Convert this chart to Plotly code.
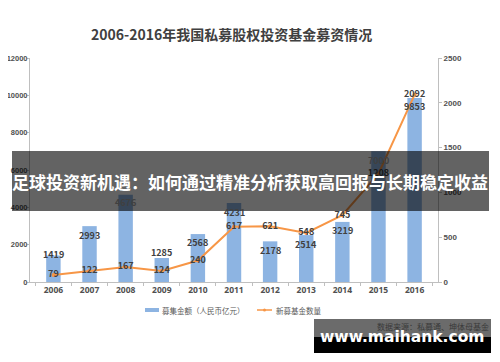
import plotly.graph_objects as go

years = ["2006", "2007", "2008", "2009", "2010", "2011", "2012", "2013", "2014", "2015", "2016"]
amount = [1419, 2993, 4676, 1285, 2568, 4231, 2178, 2514, 3219, 7000, 9853]
count = [79, 122, 167, 124, 240, 617, 621, 548, 745, 1208, 2092]
amount_label_shift = [1, -9, -8, 6, -8, -9, -9, -9, -9, -9, -8]

series_names = ["募集金额（人民币亿元）", "新募基金数量"]
title = "2006-2016年我国私募股权投资基金募资情况"
banner = "足球投资新机遇：如何通过精准分析获取高回报与长期稳定收益"
source = "数据来源：私募通、坤体母基金"
watermark = "www.maihank.com"

# page body has an 8px margin; work in window pixels and convert
OFF = 8
W, H = 500 - OFF, 362 - OFF
AX_L, AX_R, AX_T, AX_B = 30, 438, 58, 282  # plot area in window pixels
L = AX_L - OFF
R = W - (AX_R - OFF)
T = AX_T - OFF
B = H - (AX_B - OFF)
PW, PH = W - L - R, H - T - B


def px(x):
    return (x - AX_L) / PW


def py(y):
    return (AX_B - y) / PH


FONT = "Noto Sans CJK SC"
BLUE = "#8DB4E2"
ORANGE = "#F79646"
TXT = "#404040"

fig = go.Figure()
fig.add_trace(go.Bar(
    x=years, y=amount, name=series_names[0],
    marker=dict(color=BLUE, line=dict(width=0)),
    yaxis="y", showlegend=False,
))
fig.add_trace(go.Scatter(
    x=years, y=count, name=series_names[1],
    mode="lines+markers+text",
    line=dict(color=ORANGE, width=2),
    marker=dict(color=ORANGE, size=4),
    text=[str(v) for v in count], textposition="middle center",
    textfont=dict(family=FONT, size=9, color=TXT, weight="bold"),
    yaxis="y2", showlegend=False,
))

annotations = []
for i, (v, s) in enumerate(zip(amount, amount_label_shift)):
    annotations.append(dict(
        x=i, y=v, xref="x", yref="y", text=str(v), showarrow=False,
        yanchor="middle", yshift=s,
        font=dict(family=FONT, size=9, color=TXT, weight="bold"),
    ))

annotations.append(dict(
    x=px(231), y=py(34), xref="paper", yref="paper", text=title,
    showarrow=False, xanchor="center", yanchor="middle",
    font=dict(family=FONT, size=14, color=TXT, weight="bold"),
))
annotations.append(dict(
    x=px(250), y=py(181), xref="paper", yref="paper", text=banner,
    showarrow=False, xanchor="center", yanchor="middle",
    font=dict(family=FONT, size=17, color="white", weight="bold"),
))
annotations.append(dict(
    x=px(491), y=py(326), xref="paper", yref="paper", text=source,
    showarrow=False, xanchor="right", yanchor="middle",
    font=dict(family=FONT, size=8, color="#3a3a3a"),
))
annotations.append(dict(
    x=px(402), y=py(337), xref="paper", yref="paper", text=watermark,
    showarrow=False, xanchor="center", yanchor="middle",
    font=dict(family="DejaVu Sans", size=15.5, color="white", weight="bold"),
))
# custom legend texts
legend_font = dict(family=FONT, size=7.5, color="#595959")
annotations.append(dict(
    x=px(160), y=py(310), xref="paper", yref="paper", text=series_names[0],
    showarrow=False, xanchor="left", yanchor="middle", font=legend_font,
))
annotations.append(dict(
    x=px(274), y=py(310), xref="paper", yref="paper", text=series_names[1],
    showarrow=False, xanchor="left", yanchor="middle", font=legend_font,
))

shapes = [
    dict(type="rect", xref="paper", yref="paper",
         x0=px(12), x1=px(489), y0=py(211), y1=py(151),
         fillcolor="rgba(0,0,0,0.61)", line=dict(width=0), layer="above"),
    dict(type="rect", xref="paper", yref="paper",
         x0=px(314), x1=px(491), y0=py(337), y1=py(319),
         fillcolor="#6b6b6b", line=dict(width=0), layer="below"),
    dict(type="rect", xref="paper", yref="paper",
         x0=px(314), x1=px(491), y0=py(353), y1=py(337),
         fillcolor="#000000", line=dict(width=0), layer="below"),
    # legend swatches
    dict(type="rect", xref="paper", yref="paper",
         x0=px(145), x1=px(159), y0=py(312), y1=py(308),
         fillcolor=BLUE, line=dict(width=0), layer="above"),
    dict(type="line", xref="paper", yref="paper",
         x0=px(257), x1=px(272), y0=py(310), y1=py(310),
         line=dict(color=ORANGE, width=1.5), layer="above"),
    dict(type="circle", xref="paper", yref="paper",
         x0=px(263), x1=px(266), y0=py(311.5), y1=py(308.5),
         fillcolor=ORANGE, line=dict(width=0), layer="above"),
]

ltickfont = dict(family="Liberation Sans", size=7.5, color="#505050", weight="bold")
rtickfont = dict(family="Liberation Sans", size=8, color="#505050", weight="bold")
xtickfont = dict(family="Noto Sans", size=8.5, color="#505050", weight="bold")
fig.update_layout(
    width=W, height=H,
    margin=dict(l=L, r=R, t=T, b=B, autoexpand=False),
    paper_bgcolor="white", plot_bgcolor="white",
    bargap=0.6,
    showlegend=False,
    xaxis=dict(type="category", showline=True, linecolor="#bfbfbf", linewidth=1,
               ticks="outside", ticklen=3, tickcolor="#bfbfbf", tickfont=xtickfont,
               showgrid=False, tickson="boundaries"),
    yaxis=dict(range=[0, 12000], dtick=2000, showline=True, linecolor="#bfbfbf",
               linewidth=1, ticks="outside", ticklen=2, tickcolor="#bfbfbf",
               tickfont=ltickfont, ticklabelstandoff=-2,
               showgrid=False, zeroline=False, tickformat="d"),
    yaxis2=dict(range=[0, 2500], dtick=500, overlaying="y", side="right",
                showline=True, linecolor="#bfbfbf", linewidth=1, ticks="outside",
                ticklen=3, tickcolor="#bfbfbf", tickfont=rtickfont, showgrid=False,
                zeroline=False, tickformat="d"),
    annotations=annotations,
    shapes=shapes,
)

fig.write_html("out.html")
